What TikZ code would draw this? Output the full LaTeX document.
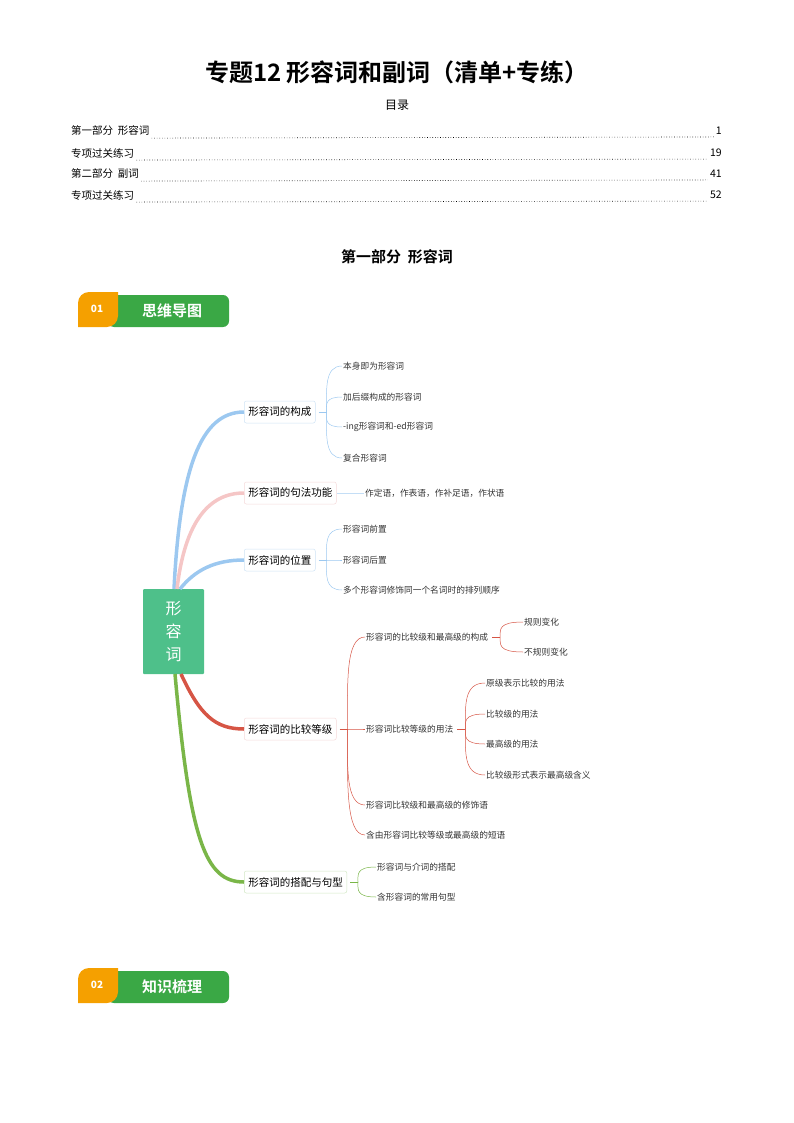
\documentclass[tikz,border=0pt]{standalone}
\usepackage{fontspec}
\usetikzlibrary{calc}
\setmainfont{Noto Sans CJK SC}
\newfontfamily\cjkb{Noto Sans CJK SC}[BoldFont={* Bold}]
\begin{document}
\begin{tikzpicture}[x=1pt,y=-1pt,
  br/.style={draw=#1,line width=0.5pt,rounded corners=2pt,fill=white,inner sep=4pt,minimum height=22pt,font=\fontsize{10.5}{12}\selectfont,anchor=west},
  lf/.style={font=\fontsize{8.7}{10}\selectfont,anchor=west,inner sep=1pt,text=black!80},
  thk/.style={line width=3.5pt,draw=#1},
  thn/.style={line width=0.5pt,draw=#1}]
\useasboundingbox (0,0) rectangle (794,1123);
\definecolor{cb}{HTML}{9CC8F0}\definecolor{cp}{HTML}{F5C6C6}\definecolor{cr}{HTML}{D65545}\definecolor{cg}{HTML}{7AB648}
\definecolor{bb}{HTML}{CFE3F5}\definecolor{bp}{HTML}{F5DADA}\definecolor{bg}{HTML}{D2E8C4}
\definecolor{badg}{HTML}{3AA845}\definecolor{bado}{HTML}{F5A000}\definecolor{rootc}{HTML}{4EC08A}
\node[font=\cjkb\bfseries\fontsize{24}{28}\selectfont] (t) at (397,72) {专题12\ 形容词和副词（清单+专练）};
\node[font=\fontsize{12}{14}\selectfont] (ml) at (397,105) {目录};
\foreach \y/\a/\p in {131/第一部分\ \ 形容词/1,153/专项过关练习/19,174/第二部分\ \ 副词/41,195/专项过关练习/52}{
  \node[anchor=west,inner sep=0,font=\fontsize{10.5}{12}\selectfont] (l) at (71,\y) {\a};
  \node[anchor=east,inner sep=0,font=\fontsize{10.5}{12}\selectfont] (r) at (722,\y) {\p};
  \draw[dotted,line width=0.6pt] ([xshift=2pt,yshift=-2pt]l.south east) -- ([xshift=-2pt,yshift=-2pt]r.south west);
}
\node[font=\cjkb\bfseries\fontsize{15}{18}\selectfont] (h1) at (397,257) {第一部分\ \ 形容词};
% badges
\foreach \y/\n/\tx in {292/01/思维导图,968/02/知识梳理}{
  \fill[badg,rounded corners=6pt] (108,\y+3) rectangle (229,\y+35);
  \fill[bado] (78,\y+35) [rounded corners=11pt]-- (78,\y) [sharp corners]-- (118,\y) [rounded corners=11pt]-- (118,\y+35) [sharp corners]-- cycle;
  \node[white,font=\bfseries\fontsize{10}{12}\selectfont] at (97,\y+17) {\n};
  \node[white,font=\cjkb\bfseries\fontsize{15}{17}\selectfont] at (172,\y+19) {\tx};
}
% root
\node[fill=rootc,draw=none,rounded corners=1pt,minimum width=61pt,minimum height=85pt,align=center,text=white,font=\fontsize{16}{23}\selectfont] (root) at (173.5,631.5) {形\\容\\词};
\node[br=bb] (b1) at (244,412) {形容词的构成};
\node[br=bp] (b2) at (244,493) {形容词的句法功能};
\node[br=bb] (b3) at (244,560) {形容词的位置};
\node[br=bp] (b4) at (244,729) {形容词的比较等级};
\node[br=bg] (b5) at (244,882) {形容词的搭配与句型};
\draw[thk=cb] (174,589) .. controls (180,470) and (200,412) .. (b1.west);
\draw[thk=cp] (177,589) .. controls (185,520) and (210,493) .. (b2.west);
\draw[thk=cb] (180,589) .. controls (195,570) and (215,560) .. (b3.west);
\draw[thk=cr] (181,674) .. controls (200,715) and (215,729) .. (b4.west);
\draw[thk=cg] (175,674) .. controls (190,840) and (205,882) .. (b5.west);
% leaves
\node[lf] (c11) at (342,366) {本身即为形容词};
\node[lf] (c12) at (342,397) {加后缀构成的形容词};
\node[lf] (c13) at (342,427) {-ing形容词和-ed形容词};
\node[lf] (c14) at (342,458) {复合形容词};
\node[lf] (c21) at (364,493) {作定语，作表语，作补足语，作状语};
\node[lf] (c31) at (342,529) {形容词前置};
\node[lf] (c32) at (342,560) {形容词后置};
\node[lf] (c33) at (342,590) {多个形容词修饰同一个名词时的排列顺序};
\node[lf] (c41) at (365,637) {形容词的比较级和最高级的构成};
\node[lf] (c42) at (365,729) {形容词比较等级的用法};
\node[lf] (c43) at (365,805) {形容词比较级和最高级的修饰语};
\node[lf] (c44) at (365,835) {含由形容词比较等级或最高级的短语};
\node[lf] (d1) at (523,622) {规则变化};
\node[lf] (d2) at (523,652) {不规则变化};
\node[lf] (e1) at (485,683) {原级表示比较的用法};
\node[lf] (e2) at (485,714) {比较级的用法};
\node[lf] (e3) at (485,744) {最高级的用法};
\node[lf] (e4) at (485,775) {比较级形式表示最高级含义};
\node[lf] (c51) at (376,867) {形容词与介词的搭配};
\node[lf] (c52) at (376,897) {含形容词的常用句型};
\draw[thn=cb!60] (b2.east)--(c21.west);
\foreach \p/\c/\lst in {b1/cb/{c11,c12,c13,c14},b3/cb/{c31,c32,c33},b4/cr/{c41,c42,c43,c44},b5/cg/{c51,c52},c41/cr/{d1,d2},c42/cr/{e1,e2,e3,e4}}{
  \draw[thn=\c] ([xshift=3pt]\p.east) -- ++(8,0) coordinate (k);
  \foreach \q in \lst {
    \draw[thn=\c] (k) .. controls ($(k)!0.5!(k|-\q.west)$) and ([xshift=-2pt]k|-\q.west) .. (\q.west);
  }
}
\end{tikzpicture}
\end{document}
